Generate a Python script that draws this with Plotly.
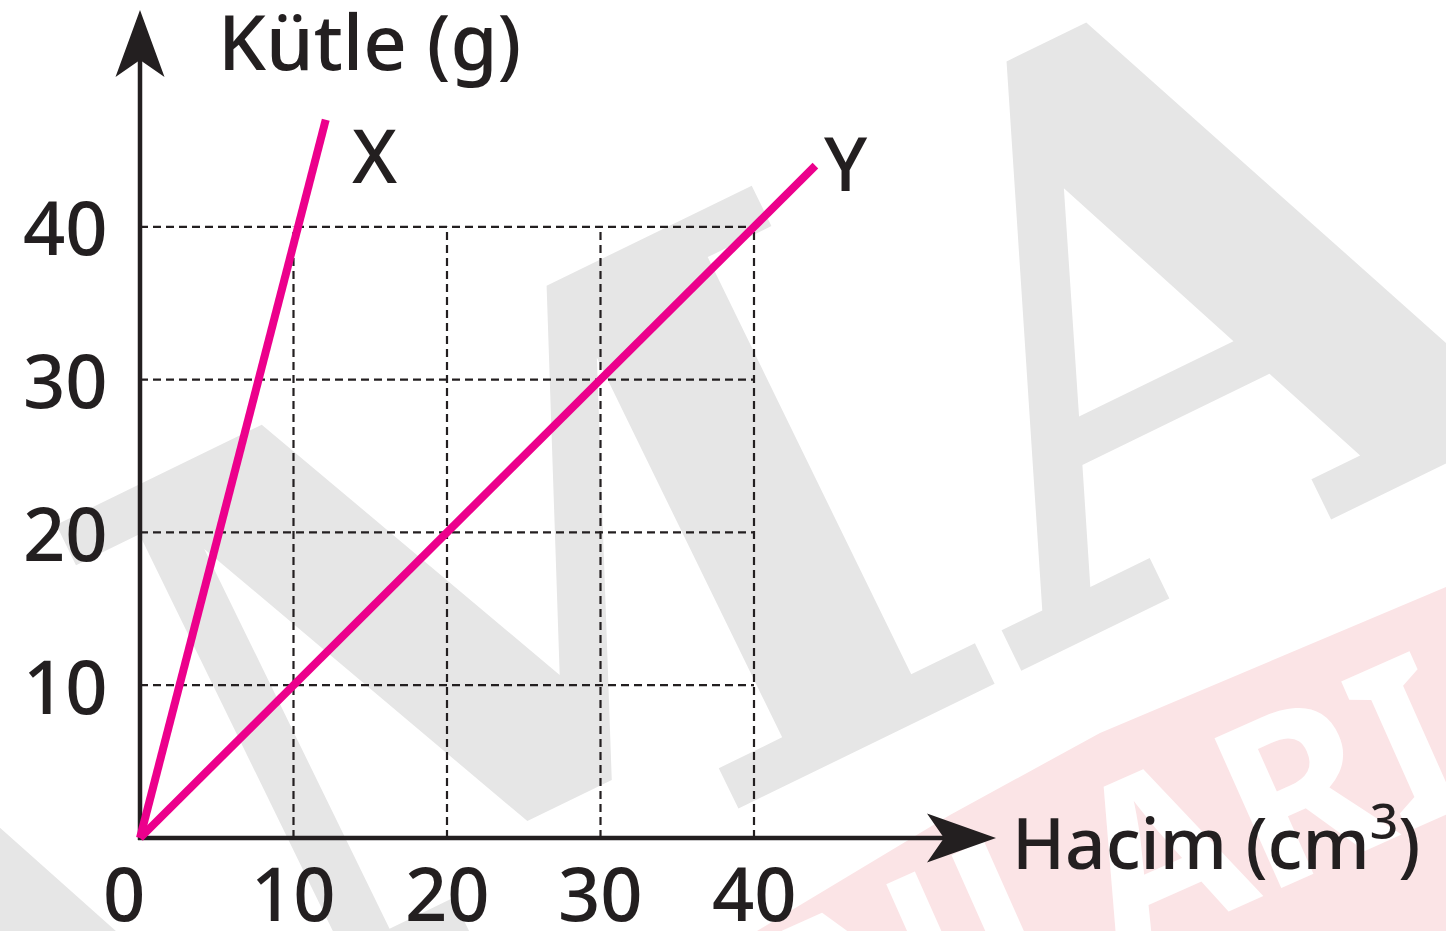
import plotly.graph_objects as go

# ---- values ----
x_tick_values = [0, 10, 20, 30, 40]
x_tick_labels = ["0", "10", "20", "30", "40"]
y_tick_values = [10, 20, 30, 40]
y_tick_labels = ["10", "20", "30", "40"]
grid_max = 40

# substance X: volume (cm³) / mass (g)
x_volume = [0, 12.1]
x_mass = [0, 47.0]
# substance Y
y_volume = [0, 44.0]
y_mass = [0, 44.0]

# ---- page geometry ----
W, H = 1446, 931
ORIGIN = (140, 838)   # pixel position of (0, 0)
SCALE_X = 15.35       # px per cm³
SCALE_Y = 15.28       # px per g

x_range = [-ORIGIN[0] / SCALE_X, (W - ORIGIN[0]) / SCALE_X]
y_range = [-(H - ORIGIN[1]) / SCALE_Y, ORIGIN[1] / SCALE_Y]


def to_x(px):
    return (px - ORIGIN[0]) / SCALE_X


def to_y(py):
    return (ORIGIN[1] - py) / SCALE_Y


def paper(px, py):
    return px / W, 1 - py / H


INK = "#231f20"
PINK = "#ec008c"
FONT = "Noto Sans"
LABEL_FONT = dict(family=FONT, size=74, color=INK, weight=500)

fig = go.Figure()

# dashed reading grid, bounded to the 0–40 box
gx, gy = [], []
for v in y_tick_values:
    gx += [0, grid_max, None]
    gy += [v, v, None]
for v in x_tick_values[1:]:
    gx += [v, v, None]
    gy += [0, grid_max, None]
fig.add_trace(go.Scatter(x=gx, y=gy, mode="lines",
                         line=dict(color=INK, width=2.2, dash="8px,5px"),
                         hoverinfo="skip"))

# mass–volume lines
for xs, ys in [(x_volume, x_mass), (y_volume, y_mass)]:
    fig.add_trace(go.Scatter(x=xs, y=ys, mode="lines",
                             line=dict(color=PINK, width=8),
                             hoverinfo="skip"))

shapes = []


def anchor_label(px, py, text, font, angle):
    """Invisible point-sized rect carrying a rotated background label."""
    cx, cy = paper(px, py)
    return dict(type="rect", xref="paper", yref="paper",
                x0=cx - 0.0005, x1=cx + 0.0005, y0=cy - 0.0005, y1=cy + 0.0005,
                line=dict(width=0), fillcolor="rgba(0,0,0,0)", layer="below",
                label=dict(text=text, textangle=angle, font=font))


# background watermark: grey slab letters and a pink band with white lettering
shapes.append(anchor_label(574, 540, "ZAMAN",
                           dict(family="DejaVu Serif", size=760,
                                color="#e6e6e6", weight="bold"), -26))
band = [paper(757, 931), paper(950, 815), paper(1100, 733),
        paper(1446, 587), paper(1446, 931)]
shapes.append(dict(type="path", xref="paper", yref="paper",
                   path="M " + " L ".join(f"{a},{b}" for a, b in band) + " Z",
                   line=dict(width=0), fillcolor="#fbe4e6", layer="below"))
shapes.append(anchor_label(894, 980, "YAYINLARI",
                           dict(family=FONT, size=230, color="white",
                                weight="bold"), -24))

# axes with arrowheads
axis_line = dict(color=INK, width=4.5)
shapes.append(dict(type="line", xref="x", yref="y", x0=0, x1=0,
                   y0=to_y(840), y1=to_y(60), line=axis_line, layer="below"))
shapes.append(dict(type="line", xref="x", yref="y", x0=to_x(138), x1=to_x(944),
                   y0=0, y1=0, line=axis_line, layer="below"))


def head(points):
    return "M " + " L ".join(f"{to_x(a)},{to_y(b)}" for a, b in points) + " Z"


shapes.append(dict(type="path", xref="x", yref="y",
                   path=head([(140, 10), (115.5, 77), (140, 60), (164.5, 77)]),
                   fillcolor=INK, line=dict(width=0), layer="below"))
shapes.append(dict(type="path", xref="x", yref="y",
                   path=head([(996, 838), (927, 813.5), (944, 838), (927, 862.5)]),
                   fillcolor=INK, line=dict(width=0), layer="below"))

annotations = []
for v, t in zip(y_tick_values, y_tick_labels):
    annotations.append(dict(x=0, y=v, text=t, showarrow=False, xanchor="right",
                            yanchor="middle", xshift=-30, font=LABEL_FONT))
for v, t in zip(x_tick_values, x_tick_labels):
    annotations.append(dict(x=v, y=0, text=t, showarrow=False, xanchor="center",
                            yanchor="middle", yshift=-54,
                            xshift=-16 if v == 0 else 0, font=LABEL_FONT))

annotations.append(dict(x=x_volume[-1], y=x_mass[-1], text="X", showarrow=False,
                        xshift=49, yshift=-35, font=LABEL_FONT))
annotations.append(dict(x=y_volume[-1], y=y_mass[-1], text="Y", showarrow=False,
                        xshift=31, yshift=3, font=LABEL_FONT))

annotations.append(dict(x=to_x(216), y=to_y(40), text="Kütle (g)", showarrow=False,
                        xanchor="left", yanchor="middle",
                        font=dict(family=FONT, size=76, color=INK, weight=500)))
annotations.append(dict(x=to_x(1010), y=0, text="Hacim (cm<sup>3</sup>)",
                        showarrow=False, xanchor="left", yanchor="middle",
                        font=dict(family=FONT, size=71, color=INK, weight=500)))

fig.update_layout(
    width=W, height=H,
    margin=dict(l=0, r=0, t=0, b=0),
    paper_bgcolor="white",
    plot_bgcolor="rgba(0,0,0,0)",
    showlegend=False,
    hovermode=False,
    xaxis=dict(range=x_range, visible=False, fixedrange=True),
    yaxis=dict(range=y_range, visible=False, fixedrange=True),
    shapes=shapes,
    annotations=annotations,
)

fig.write_html("out.html", config=dict(displayModeBar=False))
